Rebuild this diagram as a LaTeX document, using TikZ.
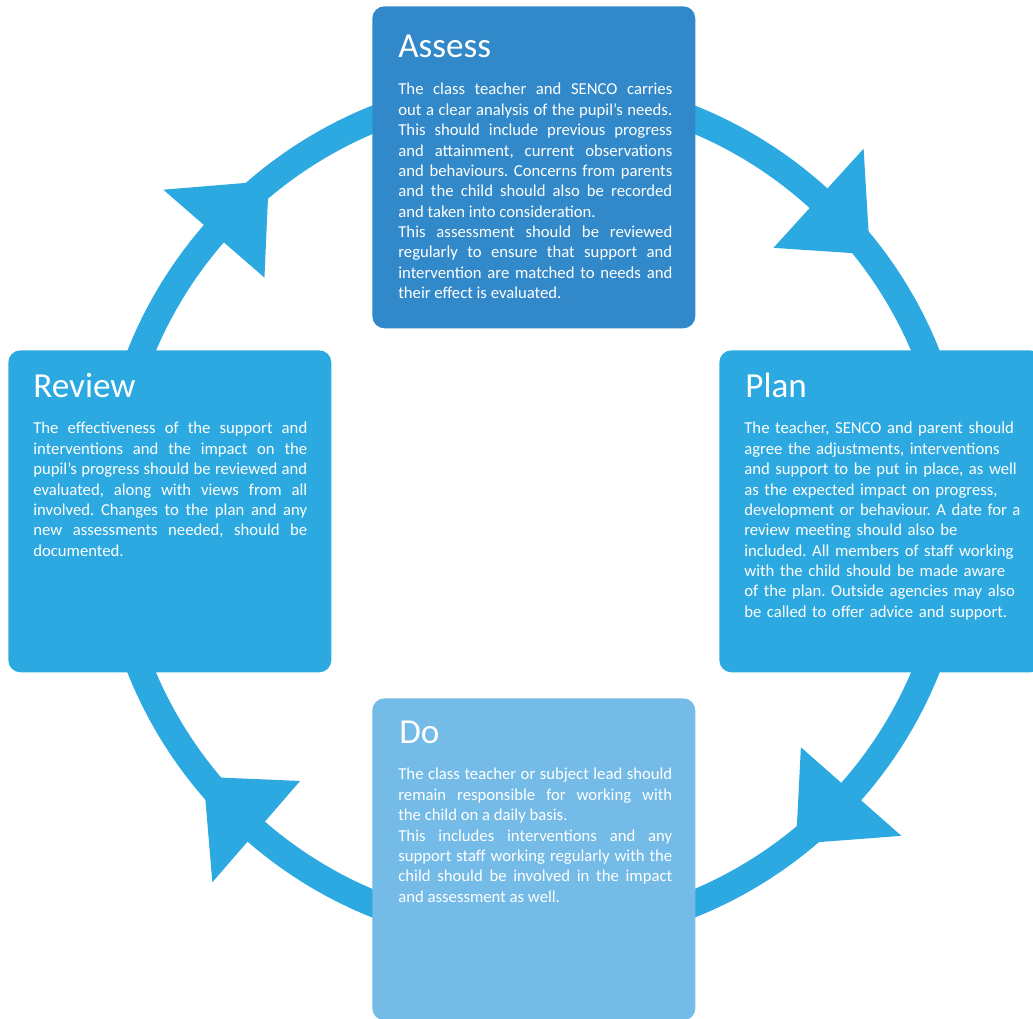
\documentclass[tikz,border=0pt]{standalone}
\usepackage{fontspec}
\setmainfont{Carlito}
\usetikzlibrary{positioning}
\definecolor{ringblue}{RGB}{44,169,224}
\definecolor{assessblue}{RGB}{50,137,201}
\definecolor{doblue}{RGB}{116,187,231}
\frenchspacing

\begin{document}
\begin{tikzpicture}[x=0.02cm,y=-0.02cm,
  stage/.style={fill=#1,rounded corners=0.24cm,inner sep=0,anchor=north west,minimum width=6.46cm,minimum height=6.44cm},
  head/.style={text=white,inner sep=0,anchor=base west,font=\fontsize{20}{24}\selectfont},
  body/.style={text=white,inner sep=0,anchor=north west,text width=5.48cm,font=\fontsize{9.5}{11.6}\selectfont}]
\useasboundingbox (0,0) rectangle (1033,1018);
\clip (0,0) rectangle (1033,1018);
% the cycle
\coordinate (hub) at (533.5,511.5);
\draw[ringblue,line width=0.53cm] (hub) circle (423.5);
\foreach \a in {-47.7,41.4,130.9,221}
  \fill[ringblue] ([shift={(\a:356.5)}]hub) -- ([shift={(\a:490.5)}]hub) -- ([shift={(\a+10.3:423.5)}]hub) -- cycle;
% the four stages
\node[stage=assessblue] (assess) at (372,6) {};
\node[stage=ringblue] (review) at (8,350) {};
\node[stage=ringblue] (plan) at (719,350) {};
\node[stage=doblue] (do) at (372,698) {};
\node[head] (assesshead) at (398,57) {Assess};
\node[head] (reviewhead) at (33,397) {Review};
\node[head] (planhead) at (745,397) {Plan};
\node[head] (dohead) at (399,743) {Do};
\node[body,align=justify] (assesstext) at (398,83) {The class teacher and SENCO carries\linebreak
out a clear analysis of the pupil’s needs.\linebreak
This should include previous progress\linebreak
and attainment, current observations\linebreak
and behaviours. Concerns from parents\linebreak
and the child should also be recorded\linebreak
and taken into consideration.\\
This assessment should be reviewed\linebreak
regularly to ensure that support and\linebreak
intervention are matched to needs and\linebreak
their effect is evaluated.};
\node[body,align=justify] (reviewtext) at (33,422) {The effectiveness of the support and\linebreak
interventions and the impact on the\linebreak
pupil’s progress should be reviewed and\linebreak
evaluated, along with views from all\linebreak
involved. Changes to the plan and any\linebreak
new assessments needed, should be\linebreak
documented.};
\node[body,align=left,text width=5.8cm] (plantext) at (744,422) {The teacher, SENCO and parent should\\
agree the adjustments, interventions\\
and support to be put in place, as well\\
as the expected impact on progress,\\
development or behaviour. A date for a\\
review meeting should also be\\
included. All members of staff working\\
with the child should be made aware\\
of the plan. Outside agencies may also\\
be called to offer advice and support.};
\node[body,align=justify] (dotext) at (398,768) {The class teacher or subject lead should\linebreak
remain responsible for working with\linebreak
the child on a daily basis.\\
This includes interventions and any\linebreak
support staff working regularly with the\linebreak
child should be involved in the impact\linebreak
and assessment as well.};
\end{tikzpicture}
\end{document}
